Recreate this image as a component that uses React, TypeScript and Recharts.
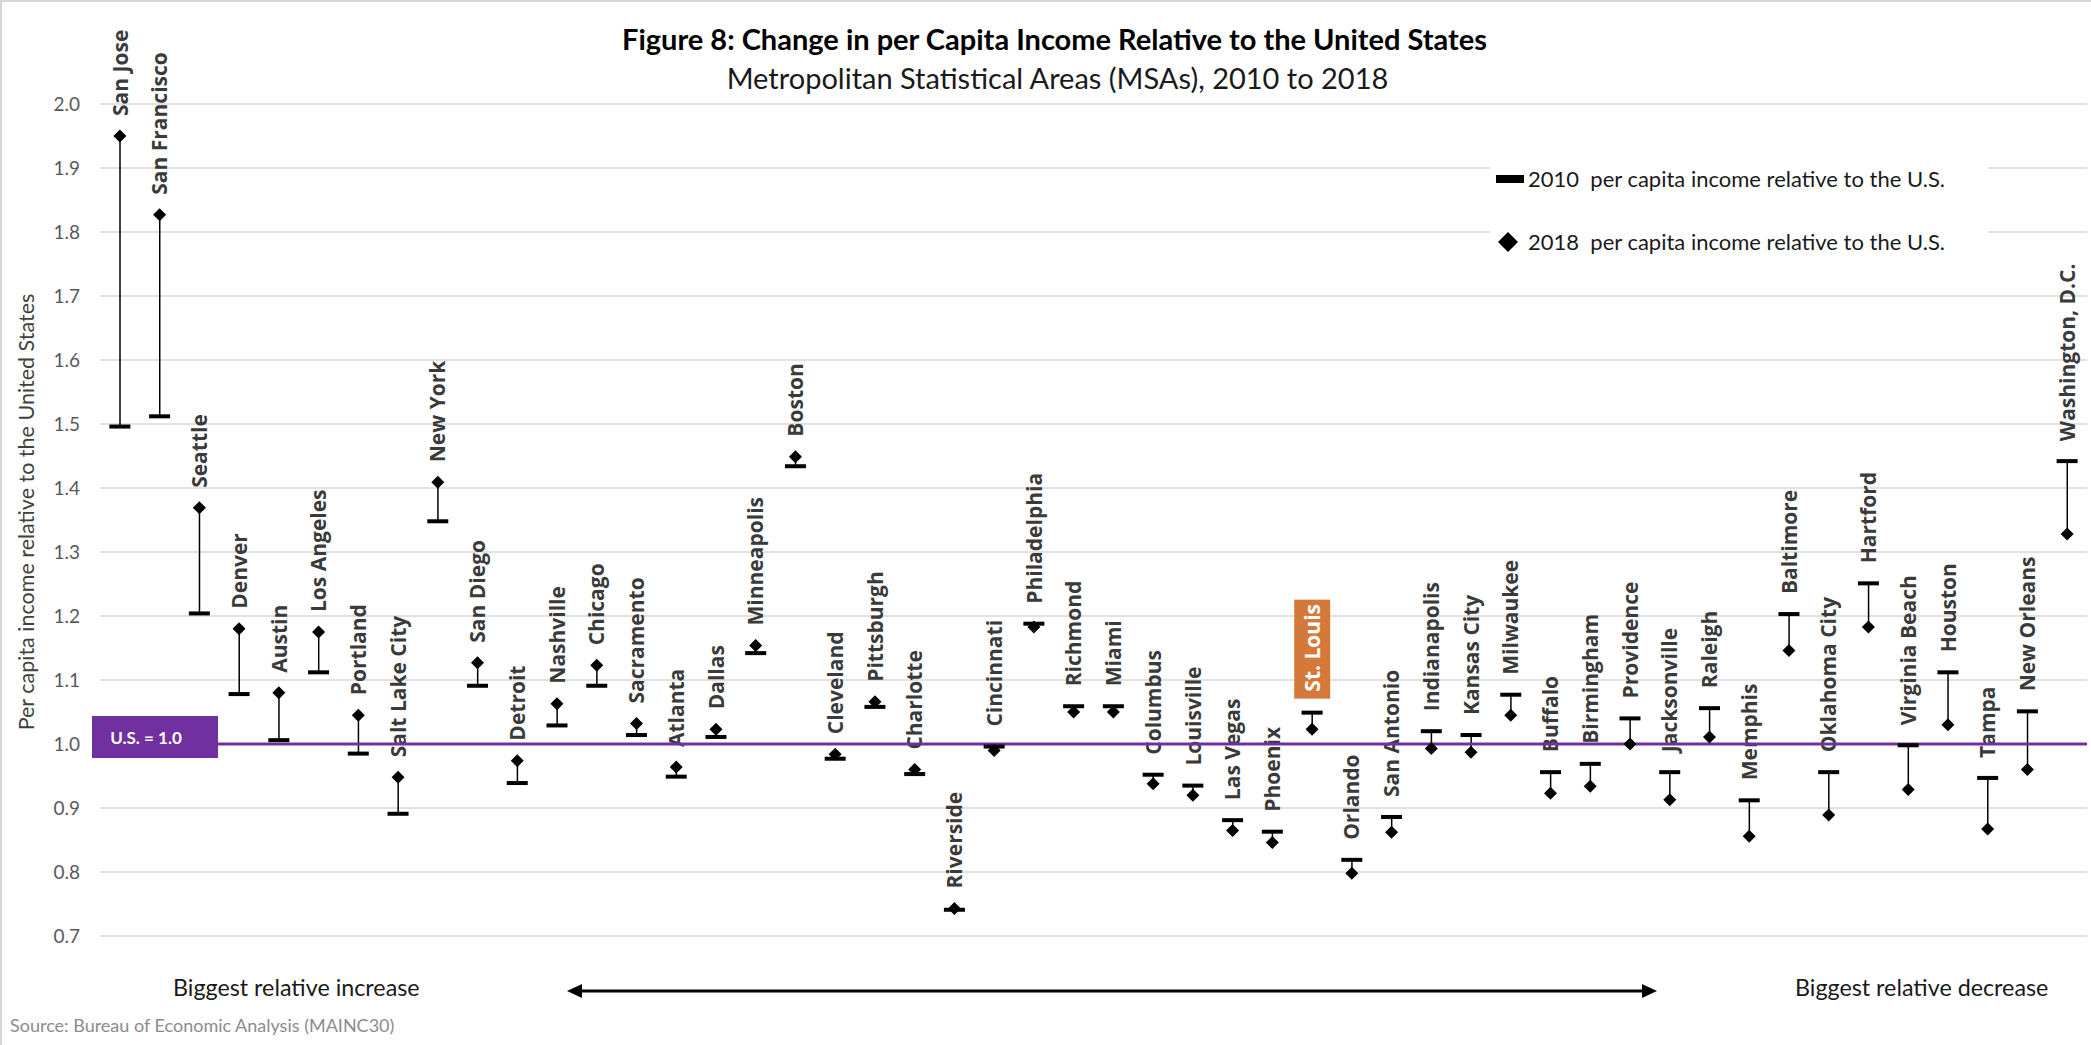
import React from 'react';
import {
  ComposedChart,
  Bar,
  Line,
  XAxis,
  YAxis,
  CartesianGrid,
  ReferenceLine,
} from 'recharts';

// MSAs ordered from biggest relative increase to biggest relative decrease
const cities = [
  'San Jose', 'San Francisco', 'Seattle', 'Denver', 'Austin', 'Los Angeles', 'Portland',
  'Salt Lake City', 'New York', 'San Diego', 'Detroit', 'Nashville', 'Chicago', 'Sacramento',
  'Atlanta', 'Dallas', 'Minneapolis', 'Boston', 'Cleveland', 'Pittsburgh', 'Charlotte',
  'Riverside', 'Cincinnati', 'Philadelphia', 'Richmond', 'Miami', 'Columbus', 'Louisville',
  'Las Vegas', 'Phoenix', 'St. Louis', 'Orlando', 'San Antonio', 'Indianapolis', 'Kansas City',
  'Milwaukee', 'Buffalo', 'Birmingham', 'Providence', 'Jacksonville', 'Raleigh', 'Memphis',
  'Baltimore', 'Oklahoma City', 'Hartford', 'Virginia Beach', 'Houston', 'Tampa',
  'New Orleans', 'Washington, D.C.',
];

// 2010 per capita income relative to the U.S.
const income2010 = [
  1.496, 1.512, 1.204, 1.078, 1.006, 1.112, 0.985,
  0.891, 1.348, 1.091, 0.939, 1.029, 1.091, 1.014,
  0.949, 1.011, 1.142, 1.434, 0.977, 1.058, 0.953,
  0.741, 0.996, 1.188, 1.059, 1.059, 0.952, 0.935,
  0.881, 0.863, 1.049, 0.819, 0.886, 1.020, 1.014,
  1.077, 0.956, 0.969, 1.040, 0.956, 1.056, 0.912,
  1.203, 0.956, 1.251, 0.998, 1.112, 0.947,
  1.051, 1.442,
];

// 2018 per capita income relative to the U.S.
const income2018 = [
  1.950, 1.827, 1.369, 1.180, 1.080, 1.175, 1.045,
  0.948, 1.409, 1.127, 0.974, 1.063, 1.123, 1.032,
  0.964, 1.023, 1.154, 1.449, 0.984, 1.066, 0.960,
  0.743, 0.990, 1.183, 1.050, 1.050, 0.938, 0.920,
  0.865, 0.846, 1.023, 0.798, 0.862, 0.993, 0.987,
  1.045, 0.923, 0.934, 1.000, 0.913, 1.011, 0.856,
  1.146, 0.889, 1.183, 0.929, 1.030, 0.867,
  0.960, 1.328,
];

const yTicks = [0.7, 0.8, 0.9, 1.0, 1.1, 1.2, 1.3, 1.4, 1.5, 1.6, 1.7, 1.8, 1.9, 2.0];
const highlightCity = 'St. Louis';

const data = cities.map((city, i) => ({
  city,
  y2010: income2010[i],
  y2018: income2018[i],
  range: [Math.min(income2010[i], income2018[i]), Math.max(income2010[i], income2018[i])],
}));

const SANS = 'Lato, "Open Sans", sans-serif';
const LABEL_FONT = '"Open Sans", sans-serif';
const PURPLE = '#7030A0';
const ORANGE = '#D5793A';

// connector between the two years plus the rotated city name above it
const RangeShape = (props: any) => {
  const { x, y, width, height, payload } = props;
  const cx = x + width / 2;
  const top = Math.min(y, y + height);
  const bottom = Math.max(y, y + height);

  if (payload.city === highlightCity) {
    const boxBottom = top - 14;
    const boxH = 99;
    return (
      <g>
        <line x1={cx} x2={cx} y1={top} y2={bottom} stroke="#000" strokeWidth={1.5} />
        <rect x={cx - 18} y={boxBottom - boxH} width={36} height={boxH} fill={ORANGE} />
        <text
          x={cx}
          y={boxBottom - 7}
          transform={`rotate(-90 ${cx} ${boxBottom - 7})`}
          dy="0.36em"
          fill="#fff"
          fontFamily={LABEL_FONT}
          fontWeight={700}
          fontSize={21}
        >
          {payload.city}
        </text>
      </g>
    );
  }

  const ly = top - 20;
  return (
    <g>
      <line x1={cx} x2={cx} y1={top} y2={bottom} stroke="#000" strokeWidth={1.5} />
      <text
        x={cx}
        y={ly}
        transform={`rotate(-90 ${cx} ${ly})`}
        dy="0.36em"
        fill="#3a3a3a"
        fontFamily={LABEL_FONT}
        fontWeight={700}
        fontSize={21}
      >
        {payload.city}
      </text>
    </g>
  );
};

const renderDash = (props: any) => {
  const { cx, cy, index } = props;
  if (cx == null || cy == null) return <g key={`d-${index}`} />;
  return <rect key={`d-${index}`} x={cx - 10.5} y={cy - 2} width={21} height={4} fill="#000" />;
};

const renderDiamond = (props: any) => {
  const { cx, cy, index } = props;
  if (cx == null || cy == null) return <g key={`m-${index}`} />;
  return (
    <polygon
      key={`m-${index}`}
      points={`${cx},${cy - 6.5} ${cx + 6.5},${cy} ${cx},${cy + 6.5} ${cx - 6.5},${cy}`}
      fill="#000"
    />
  );
};

const UsBadge = (props: any) => {
  const vb = props.viewBox || {};
  const cy = (vb.y ?? 0) + (vb.height ?? 0) / 2;
  const x0 = (vb.x ?? 0) - 8;
  return (
    <g>
      <rect x={x0} y={cy - 28} width={126} height={42} fill={PURPLE} />
      <text
        x={x0 + 54}
        y={cy - 7}
        textAnchor="middle"
        dominantBaseline="central"
        fill="#fff"
        fontFamily={SANS}
        fontWeight={700}
        fontSize={17}
      >
        U.S. = 1.0
      </text>
    </g>
  );
};

const abs = (style: React.CSSProperties): React.CSSProperties => ({
  position: 'absolute',
  whiteSpace: 'pre',
  fontFamily: SANS,
  lineHeight: 1,
  ...style,
});

const App: React.FC = () => {
  return (
    <div style={{ position: 'relative', width: 2091, height: 1045, background: '#fff', overflow: 'hidden' }}>
      <style>{'body{margin:0;}'}</style>

      <ComposedChart
        width={2091}
        height={1045}
        data={data}
        margin={{ top: 104, right: 4, bottom: 109, left: 0 }}
      >
        <CartesianGrid vertical={false} stroke="#d9d9d9" strokeWidth={1.5} />
        <XAxis dataKey="city" hide />
        <YAxis
          domain={[0.7, 2.0]}
          ticks={yTicks}
          tickFormatter={(v: number) => v.toFixed(1)}
          axisLine={false}
          tickLine={false}
          width={100}
          tickMargin={14}
          tick={{ fill: '#595959', fontSize: 19, fontFamily: SANS }}
        />
        <ReferenceLine y={1} stroke={PURPLE} strokeWidth={3} label={<UsBadge />} />
        <Bar dataKey="range" barSize={4} shape={<RangeShape />} isAnimationActive={false} />
        <Line
          dataKey="y2010"
          stroke="none"
          dot={renderDash}
          activeDot={false}
          isAnimationActive={false}
        />
        <Line
          dataKey="y2018"
          stroke="none"
          dot={renderDiamond}
          activeDot={false}
          isAnimationActive={false}
        />
      </ComposedChart>

      {/* frame edges */}
      <div style={{ position: 'absolute', left: 0, top: 0, width: 2091, height: 2, background: '#d6d6d6' }} />
      <div style={{ position: 'absolute', left: 0, top: 0, width: 2, height: 1045, background: '#d6d6d6' }} />

      <div style={abs({ left: 0, top: 24, width: 2091, textAlign: 'center', paddingLeft: 18, boxSizing: 'border-box', fontSize: 29, fontWeight: 700, color: '#000' })}>
        Figure 8: Change in per Capita Income Relative to the United States
      </div>
      <div style={abs({ left: 0, top: 63, width: 2091, textAlign: 'center', paddingLeft: 24, boxSizing: 'border-box', fontSize: 29, color: '#1a1a1a' })}>
        Metropolitan Statistical Areas (MSAs), 2010 to 2018
      </div>

      <div
        style={abs({
          left: 27,
          top: 512,
          transform: 'translate(-50%, -50%) rotate(-90deg)',
          fontSize: 21.5,
          color: '#404040',
        })}
      >
        Per capita income relative to the United States
      </div>

      {/* legend */}
      <div style={{ position: 'absolute', left: 1491, top: 152, width: 497, height: 114, background: '#fff' }}>
        <div style={{ position: 'absolute', left: 5, top: 23, width: 28, height: 8, background: '#000' }} />
        <div style={abs({ left: 37, top: 16, fontSize: 22, color: '#1a1a1a' })}>
          {'2010  per capita income relative to the U.S.'}
        </div>
        <svg style={{ position: 'absolute', left: 7, top: 80 }} width={20} height={20}>
          <polygon points="10,0 20,10 10,20 0,10" fill="#000" />
        </svg>
        <div style={abs({ left: 37, top: 79, fontSize: 22, color: '#1a1a1a' })}>
          {'2018  per capita income relative to the U.S.'}
        </div>
      </div>

      {/* bottom annotation */}
      <div style={abs({ left: 173, top: 976, fontSize: 23.3, color: '#1a1a1a' })}>Biggest relative increase</div>
      <div style={abs({ left: 1795, top: 976, fontSize: 23.3, color: '#1a1a1a' })}>Biggest relative decrease</div>
      <svg style={{ position: 'absolute', left: 0, top: 975 }} width={2091} height={32}>
        <line x1={580} x2={1644} y1={16} y2={16} stroke="#000" strokeWidth={3} />
        <polygon points="567,16 582,9 582,23" fill="#000" />
        <polygon points="1657,16 1642,9 1642,23" fill="#000" />
      </svg>
      <div style={abs({ left: 10, top: 1016, fontSize: 18, color: '#8c8c8c' })}>
        Source: Bureau of Economic Analysis (MAINC30)
      </div>
    </div>
  );
};

export default App;
